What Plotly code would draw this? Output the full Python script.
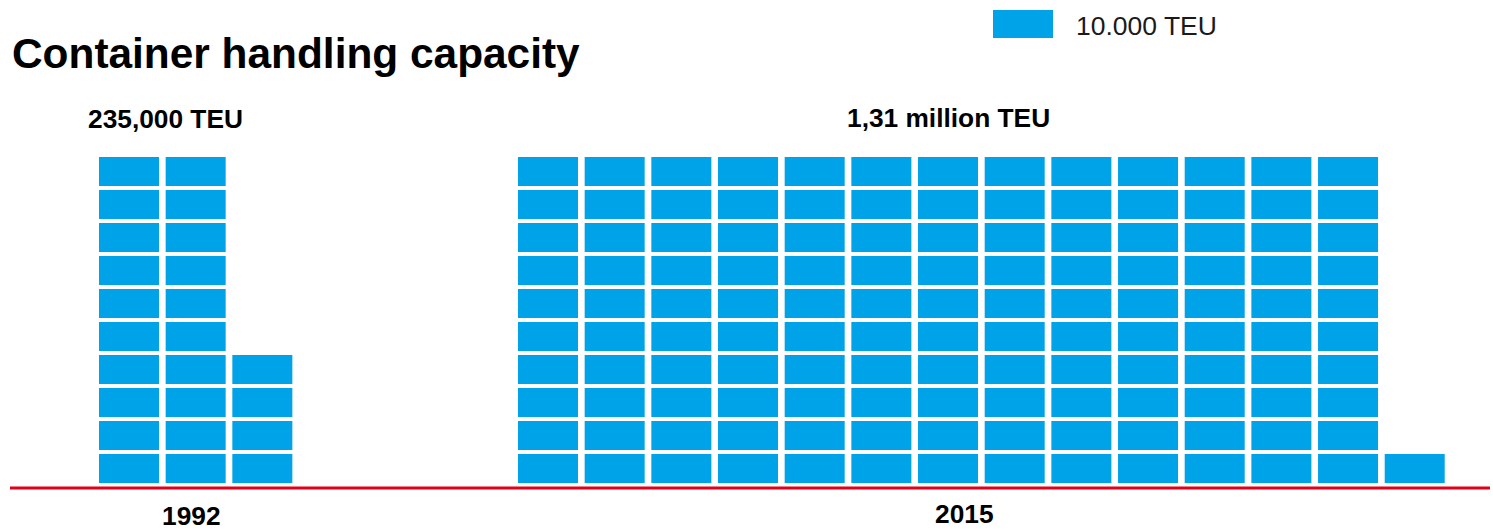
import math
import plotly.graph_objects as go

# ---- data ----
years = ["1992", "2015"]
capacity_teu = [235000, 1310000]
value_labels = ["235,000 TEU", "1,31 million TEU"]
unit_teu = 10000
unit_label = "10.000 TEU"
title_text = "Container handling capacity"
blocks_per_column = 10

# ---- layout constants (pixels) ----
W, H = 1493, 529
COL_PITCH = 66.67     # px per column
ROW_PITCH = 33.0      # px per row
BLOCK_W = 0.9         # in column units
BLOCK_H = 29.0 / 33.0 # in row units
FIRST_LEFT_PX = 99    # left edge of the first block
BASE_PX = 483         # bottom edge of the blocks
group_offsets = [0.0, (518 - 99) / COL_PITCH]

BLUE = "#00A2E8"
RED = "#E2001A"
FONT = "Liberation Sans"

def px_x(p):
    return p / W

def px_y(p):
    return 1 - p / H

# build the blocks from the data
xs, bases = [], []
for g, val in enumerate(capacity_teu):
    n = math.ceil(val / unit_teu)
    for i in range(n):
        col = i // blocks_per_column
        row = i % blocks_per_column
        xs.append(group_offsets[g] + col)
        bases.append(row)

fig = go.Figure()
fig.add_trace(go.Bar(
    x=xs, y=[BLOCK_H] * len(xs), base=bases, width=BLOCK_W,
    marker=dict(color=BLUE, line=dict(width=0)),
    hoverinfo="skip", showlegend=False,
))

x0 = -BLOCK_W / 2 - FIRST_LEFT_PX / COL_PITCH
x1 = x0 + W / COL_PITCH
y0 = -(H - BASE_PX) / ROW_PITCH
y1 = BASE_PX / ROW_PITCH

fig.update_layout(
    width=W, height=H,
    margin=dict(l=0, r=0, t=0, b=0),
    paper_bgcolor="white", plot_bgcolor="white",
    barmode="overlay",
    xaxis=dict(range=[x0, x1], visible=False, fixedrange=True),
    yaxis=dict(range=[y0, y1], visible=False, fixedrange=True),
    showlegend=False,
    font=dict(family=FONT, color="black"),
)

# baseline
fig.add_shape(type="line", xref="paper", yref="y",
              x0=px_x(10), x1=px_x(1490),
              y0=-(488 - BASE_PX) / ROW_PITCH, y1=-(488 - BASE_PX) / ROW_PITCH,
              line=dict(color=RED, width=3))

# legend swatch
fig.add_shape(type="rect", xref="paper", yref="paper",
              x0=px_x(993), x1=px_x(1053), y0=px_y(38), y1=px_y(10),
              fillcolor=BLUE, line=dict(width=0))
fig.add_annotation(text=unit_label, xref="paper", yref="paper",
                   x=px_x(1074), y=px_y(26), xanchor="left", yanchor="middle",
                   showarrow=False, font=dict(size=26.5, color="#1a1a1a", family=FONT))

# title
fig.add_annotation(text="<b>" + title_text + "</b>", xref="paper", yref="paper",
                   x=px_x(10), y=px_y(54), xanchor="left", yanchor="middle",
                   showarrow=False, font=dict(size=42.4, color="black", family=FONT))

# value labels and year labels
value_label_px = [(165, 119), (948, 118)]
year_label_px = [(192, 516), (964, 514)]
for i in range(len(years)):
    vx, vy = value_label_px[i]
    fig.add_annotation(text="<b>" + value_labels[i] + "</b>", xref="paper", yref="paper",
                       x=px_x(vx), y=px_y(vy), xanchor="center", yanchor="middle",
                       showarrow=False, font=dict(size=26.3, color="black", family=FONT))
    yx, yy = year_label_px[i]
    fig.add_annotation(text="<b>" + years[i] + "</b>", xref="paper", yref="paper",
                       x=px_x(yx), y=px_y(yy), xanchor="center", yanchor="middle",
                       showarrow=False, font=dict(size=26.3, color="black", family=FONT))

fig.write_html("out.html", config={"displayModeBar": False, "staticPlot": True})

# remove the default page margin so the figure fills the window exactly
with open("out.html", "r", encoding="utf-8") as f:
    html = f.read()
html = html.replace("<head>", "<head><style>html,body{margin:0;padding:0;overflow:hidden;}</style>", 1)
with open("out.html", "w", encoding="utf-8") as f:
    f.write(html)
